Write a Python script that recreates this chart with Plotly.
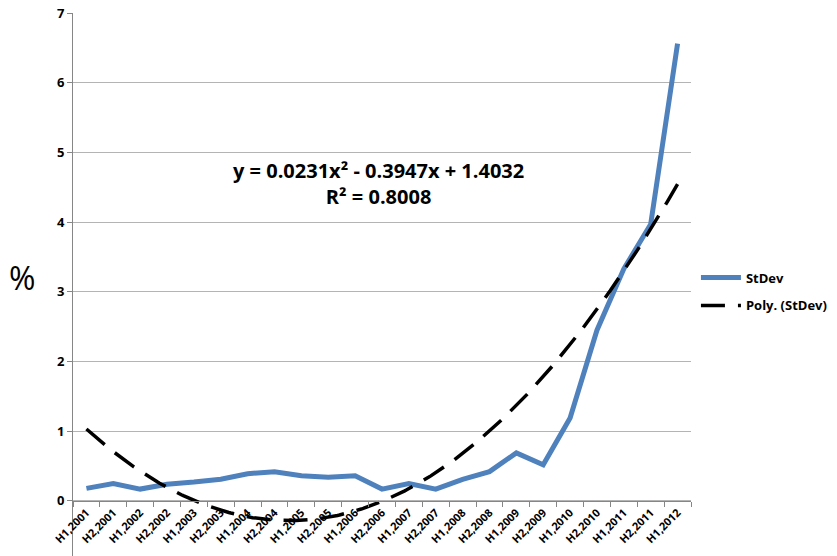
import numpy as np
import plotly.graph_objects as go

categories = ["H1,2001", "H2,2001", "H1,2002", "H2,2002", "H1,2003", "H2,2003",
              "H1,2004", "H2,2004", "H1,2005", "H2,2005", "H1,2006", "H2,2006",
              "H1,2007", "H2,2007", "H1,2008", "H2,2008", "H1,2009", "H2,2009",
              "H1,2010", "H2,2010", "H1,2011", "H2,2011", "H1,2012"]
stdev = [0.18, 0.25, 0.17, 0.24, 0.27, 0.31, 0.39, 0.42, 0.36, 0.34, 0.36, 0.17,
         0.25, 0.17, 0.31, 0.42, 0.69, 0.52, 1.19, 2.45, 3.33, 3.97, 6.56]
trend_coeffs = [0.0231, -0.3947, 1.4032]  # shown on chart
y_ticks = [0, 1, 2, 3, 4, 5, 6, 7]

pos = np.arange(1, len(categories) + 1)
xs = np.linspace(1, len(categories), 300)
trend = np.polyval(trend_coeffs, xs)

FONT = "Open Sans"
Y_MIN = -0.79
fig = go.Figure()
fig.add_trace(go.Scatter(x=pos, y=stdev, mode="lines", name="StDev",
                         legendgroup="a",
                         line=dict(color="#4F81BD", width=5)))
fig.add_trace(go.Scatter(x=xs, y=trend, mode="lines", name="Poly. (StDev)",
                         legendgroup="b",
                         line=dict(color="black", width=3.5, dash="24px,13px")))

fig.update_layout(
    width=837, height=556,
    margin=dict(l=73, r=146, t=13, b=0),
    paper_bgcolor="white", plot_bgcolor="rgba(0,0,0,0)",
    font=dict(family=FONT, color="black"),
    legend=dict(x=1.008, y=0.487, xanchor="left", yanchor="middle",
                font=dict(size=13, family=FONT, color="black", weight="bold"),
                tracegroupgap=8, itemwidth=40, bgcolor="rgba(0,0,0,0)"),
    showlegend=True,
)
fig.update_xaxes(
    range=[0.5, len(categories) + 0.5],
    anchor="free", position=(-Y_MIN) / (7 - Y_MIN),
    tickmode="array", tickvals=pos, ticktext=categories,
    tickangle=-45, ticks="", showgrid=False, automargin=False,
    ticklabeloverflow="allow",
    tickfont=dict(size=11, family=FONT, color="black", weight="bold"),
    showline=True, linecolor="#868686", linewidth=1,
    zeroline=False,
    minor=dict(tickmode="linear", tick0=0.5, dtick=1, ticks="outside",
               ticklen=5, tickcolor="#868686", showgrid=False),
)
fig.update_yaxes(
    range=[Y_MIN, 7], tickmode="array", tickvals=y_ticks,
    showgrid=True, gridcolor="#B4B4B4", gridwidth=1, automargin=False,
    ticklabeloverflow="allow",
    showline=True, linecolor="#868686", linewidth=1,
    ticks="outside", ticklen=5, tickcolor="#868686",
    zeroline=False,
    tickfont=dict(size=13, family=FONT, color="black", weight="bold"),
)
fig.add_annotation(x=-0.083, y=3.2, xref="paper", yref="y", text="%",
                   xanchor="center", yanchor="middle",
                   showarrow=False, font=dict(size=32, family=FONT, color="black"))
fig.add_annotation(x=11.86, y=4.56, xref="x", yref="y",
                   text="<b>y = 0.0231x² - 0.3947x + 1.4032</b><br><b>R² = 0.8008</b>",
                   showarrow=False, align="center", xanchor="center",
                   font=dict(size=20, family=FONT, color="black"))
# remove the default 8px page margin so the figure fills the window exactly
fig.write_html("out.html", config={"displayModeBar": False},
               post_script="document.body.style.margin='0';")
